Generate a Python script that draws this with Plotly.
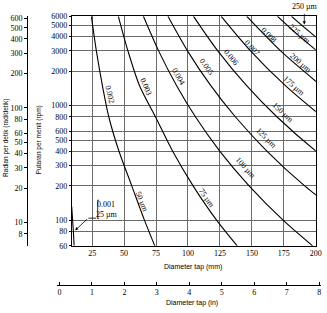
import math
import plotly.graph_objects as go

W, H = 327, 313

# ---------------- data ----------------
rpm_ticks = [60, 80, 100, 200, 300, 400, 500, 600, 800, 1000, 2000, 3000, 4000, 5000, 6000]
rad_ticks = [8, 10, 20, 30, 40, 50, 60, 80, 100, 200, 300, 400, 500, 600]
mm_ticks = [25, 50, 75, 100, 125, 150, 175, 200]
in_ticks = [0, 1, 2, 3, 4, 5, 6, 7, 8]

# curves (diameter mm, rpm)
d_25um = [9.0, 9.6, 10.3, 10.9]
rpm_25um = [132, 105, 80, 60]
d_50um = [24.4, 28.3, 33.0, 38.0, 46.0, 56.0, 66.0, 74.0]
rpm_50um = [6000, 3000, 1500, 800, 400, 200, 100, 60]
d_75um = [45.5, 53.0, 62.0, 74.5, 88.0, 104.0, 122.5, 138.5]
rpm_75um = [6000, 3000, 1500, 800, 400, 200, 100, 60]
d_100um = [65.1, 77.0, 91.0, 105.8, 125.0, 147.8, 174.6, 197.5]
rpm_100um = [6000, 3000, 1500, 800, 400, 200, 100, 60]
d_125um = [84.3, 99.6, 117.7, 137.0, 161.9, 191.3, 226.1]
rpm_125um = [6000, 3000, 1500, 800, 400, 200, 100]
d_150um = [104.3, 123.3, 145.7, 169.5, 200.3, 236.7]
rpm_150um = [6000, 3000, 1500, 800, 400, 200]
d_175um = [126.0, 148.9, 176.0, 204.8]
rpm_175um = [6000, 3000, 1500, 800]
d_200um = [146.0, 172.5, 203.9]
rpm_200um = [6000, 3000, 1500]
d_225um = [170.0, 185.3, 200.9]
rpm_225um = [6000, 4200, 3000]
d_250um = [181.0, 191.0, 202.0]
rpm_250um = [6000, 4800, 3800]

curves = [
    (d_25um, rpm_25um), (d_50um, rpm_50um), (d_75um, rpm_75um),
    (d_100um, rpm_100um), (d_125um, rpm_125um), (d_150um, rpm_150um),
    (d_175um, rpm_175um), (d_200um, rpm_200um), (d_225um, rpm_225um),
    (d_250um, rpm_250um),
]

inch_labels = ["0.002", "0.003", "0.004", "0.005", "0.006", "0.007", "0.008"]
um_labels = ["50 µm", "75 µm", "100 µm", "125 µm", "150 µm", "175 µm", "200 µm", "225 µm"]

# ---------------- layout geometry (pixels) ----------------
PL, PR, PT, PB = 73.3, 321.7, 12.7, 249.0
RPM_RANGE = [math.log10(60), math.log10(6000)]
RAD_F = 2 * math.pi / 60
RAD_RANGE = [math.log10(60 * RAD_F), math.log10(6000 * RAD_F)]
X_RANGE = [9.2, 200.0001]
IN_PX0, IN_PX_PER = 60.5, 33.1
IN_DOM = [58 / W, 1.0]
IN_LINE_Y = 289

def px(x):
    return x / W

def py(y):
    return 1 - y / H

SERIF = "Liberation Serif"
SANS = "Liberation Sans"

fig = go.Figure()
for d, r in curves:
    fig.add_trace(go.Scatter(x=d, y=r, mode="lines",
                             line=dict(color="black", width=1.1, shape="spline", smoothing=0.8),
                             hoverinfo="skip", showlegend=False))

# invisible helpers so the extra axes render
fig.add_trace(go.Scatter(x=[50], y=[10], xaxis="x", yaxis="y2", mode="markers",
                         marker=dict(opacity=0), showlegend=False, hoverinfo="skip"))
fig.add_trace(go.Scatter(x=[1], y=[0.5], xaxis="x2", yaxis="y3", mode="markers",
                         marker=dict(opacity=0), showlegend=False, hoverinfo="skip"))

tickfont = dict(family=SERIF, size=8, color="black")
grid = "#6a6a6a"

fig.update_layout(
    width=W, height=H, margin=dict(l=0, r=0, t=0, b=0),
    paper_bgcolor="white", plot_bgcolor="rgba(0,0,0,0)", showlegend=False,
    xaxis=dict(domain=[px(PL), px(PR)], range=X_RANGE, tickvals=mm_ticks,
               ticktext=[str(v) for v in mm_ticks], tickfont=tickfont,
               showgrid=True, gridcolor=grid, gridwidth=0.8, zeroline=False,
               showline=True, linecolor="black", linewidth=1, mirror=True,
               ticks="", anchor="y", ticklabeloverflow="allow"),
    yaxis=dict(domain=[py(PB), py(PT)], type="log",
               range=[RPM_RANGE[0] - 1e-6, RPM_RANGE[1] + 1e-6],
               tickvals=rpm_ticks, ticktext=[str(v) for v in rpm_ticks], tickfont=tickfont,
               showgrid=True, gridcolor=grid, gridwidth=0.8, zeroline=False,
               showline=True, linecolor="black", linewidth=1, mirror=True,
               ticks="outside", ticklen=2, tickcolor="black", anchor="x",
               ticklabeloverflow="allow"),
    yaxis2=dict(type="log", range=RAD_RANGE, overlaying="y", anchor="free",
                position=px(27.7), side="left", tickvals=rad_ticks,
                ticktext=[str(v) for v in rad_ticks], tickfont=tickfont,
                showgrid=False, zeroline=False, showline=True, linecolor="black",
                linewidth=1, ticks="outside", ticklen=3, tickcolor="black",
                ticklabeloverflow="allow"),
    yaxis3=dict(domain=[py(IN_LINE_Y), py(IN_LINE_Y) + 0.01], range=[0, 1], visible=False,
                anchor="x2"),
    xaxis2=dict(domain=IN_DOM,
                range=[(IN_DOM[0] * W - IN_PX0) / IN_PX_PER, (W - IN_PX0) / IN_PX_PER],
                anchor="y3", tickvals=in_ticks,
                ticktext=[str(v) for v in in_ticks], tickfont=tickfont,
                showgrid=False, zeroline=False, showline=True, linecolor="black",
                linewidth=1, ticks="inside", ticklen=3, tickcolor="black",
                ticklabeloverflow="allow"),
)

ann = []
def label(text, x, y, ang, size=8, fam=SERIF):
    ann.append(dict(text=text, x=px(x), y=py(y), xref="paper", yref="paper",
                    showarrow=False, textangle=ang, xanchor="center", yanchor="middle",
                    font=dict(family=fam, size=size, color="black")))

inch_pos = [(112, 93, 76), (148.5, 85, 67), (181.5, 75, 60), (210.5, 64, 55),
            (235.5, 55, 51), (256.5, 45, 48), (274.5, 32, 45)]
for t, (x, y, a) in zip(inch_labels, inch_pos):
    label(t, x, y, a)
um_pos = [(145, 204, 68), (211, 200, 55), (251, 169, 48), (272, 138, 45),
          (288, 112, 43), (300, 85, 42), (307, 61, 41), (306, 31, 41)]
for t, (x, y, a) in zip(um_labels, um_pos):
    label(t, x, y, a)

# 0.001 / 25 um callout
label("0.001", 108, 206.5, 0)
label("25 µm", 109.5, 217, 0)
ann.append(dict(text="", x=px(76.5), y=py(233), xref="paper", yref="paper",
                ax=13.5, ay=-12.5, axref="pixel", ayref="pixel",
                showarrow=True, arrowhead=2, arrowsize=0.8, arrowwidth=0.8, arrowcolor="black"))
# 250 um callout at top
label("250 µm", 311, 3, 0)
ann.append(dict(text="", x=px(310), y=py(21), xref="paper", yref="paper",
                ax=0, ay=-12, axref="pixel", ayref="pixel",
                showarrow=True, arrowhead=2, arrowsize=0.8, arrowwidth=0.8, arrowcolor="black"))

# axis titles
label("Diameter tap (mm)", 197, 271, 0, size=7, fam=SANS)
label("Diameter tap (in)", 196, 308, 0, size=7, fam=SANS)
label("Putaran per menit (rpm)", 40, 140, -90, size=6.5, fam=SANS)
label("Radian per detik (rad/detik)", 6, 138, -90, size=6.5, fam=SANS)

fig.update_layout(annotations=ann)

shapes = [
    dict(type="line", xref="paper", yref="paper", x0=px(90), y0=py(220.5), x1=px(98), y1=py(220.5),
         line=dict(color="black", width=0.8)),
    dict(type="path", xref="paper", yref="paper",
         path=f"M {px(101)} {py(202)} L {px(99.5)} {py(202)} L {px(99.5)} {py(221)} L {px(101)} {py(221)}",
         line=dict(color="black", width=0.8)),
]
fig.update_layout(shapes=shapes)

fig.write_html("out.html")
